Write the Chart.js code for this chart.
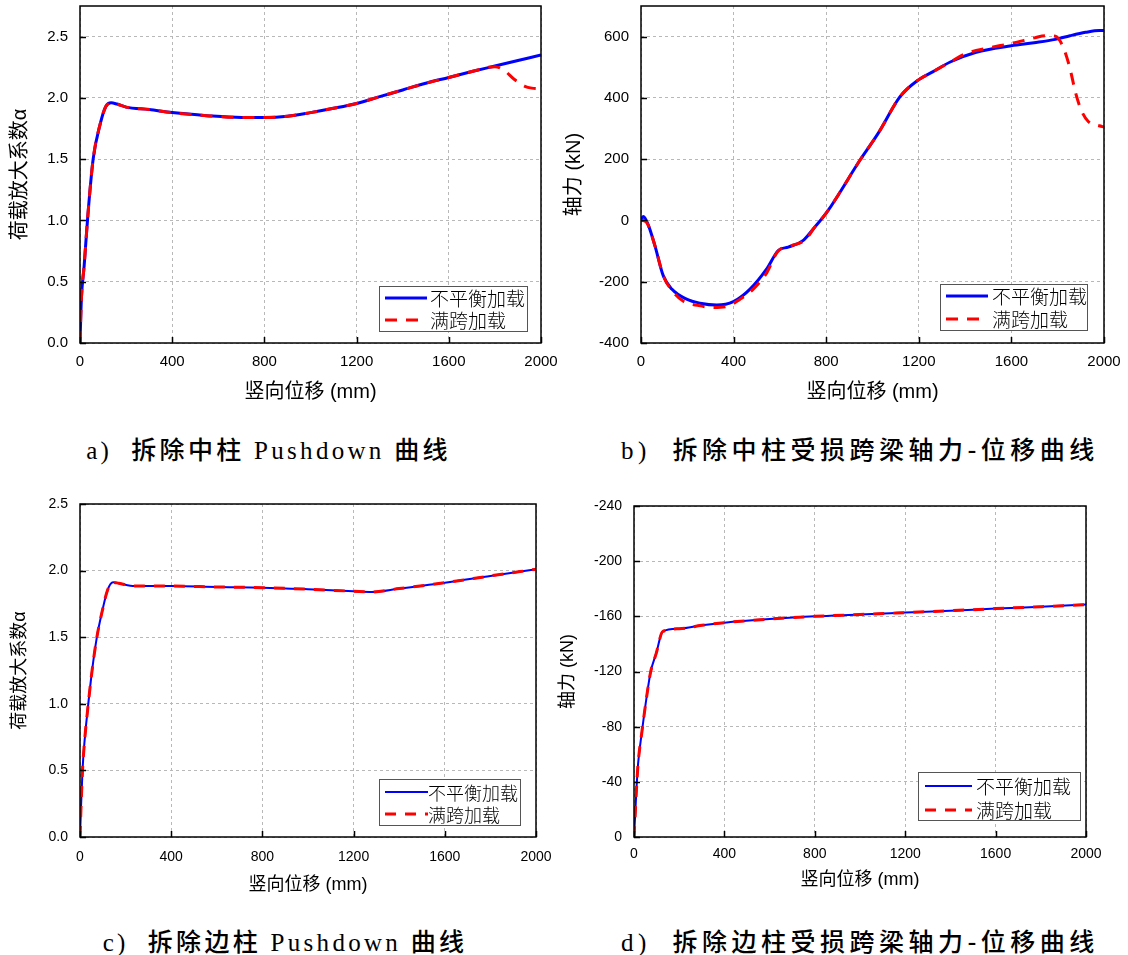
<!DOCTYPE html>
<html>
<head>
<meta charset="utf-8">
<script src="https://cdn.jsdelivr.net/npm/chart.js@4.4.0/dist/chart.umd.min.js"></script>
<style>
  body { margin: 0; background: #fff; width: 1128px; height: 955px; position: relative; overflow: hidden; }
  .cap { position: absolute; font-family: 'Liberation Serif', 'Noto Sans CJK SC', serif; font-size: 25px;
         white-space: nowrap; color: #000; text-align: center; line-height: 30px; }
  .cap b { font-family: 'Noto Sans CJK SC', sans-serif; font-weight: 500; }
</style>
</head>
<body>
<div class="cap" style="left:0;width:537px;top:433px;letter-spacing:3.3px">a)&nbsp; <b>拆除中柱</b> Pushdown <b>曲线</b></div>
<div class="cap" style="left:600px;width:520px;top:433px;letter-spacing:4.5px">b)&nbsp; <b>拆除中柱受损跨梁轴力-位移曲线</b></div>
<div class="cap" style="left:0;width:570px;top:925px;letter-spacing:3.3px">c)&nbsp; <b>拆除边柱</b> Pushdown <b>曲线</b></div>
<div class="cap" style="left:600px;width:520px;top:925px;letter-spacing:4.5px">d)&nbsp; <b>拆除边柱受损跨梁轴力-位移曲线</b></div>
<script>
// a) 拆除中柱 Pushdown
const aDispBlue = [0, 6, 18, 34, 57, 88, 112, 135, 160, 200, 300, 400, 550, 700, 800, 900, 1000, 1100, 1200, 1300, 1400, 1500, 1600, 1700, 1800, 1900, 2000];
const aAlphaBlue = [0, 0.36, 0.63, 1.04, 1.50, 1.79, 1.93, 1.96, 1.95, 1.925, 1.905, 1.88, 1.855, 1.84, 1.84, 1.85, 1.88, 1.915, 1.955, 2.01, 2.065, 2.12, 2.167, 2.215, 2.26, 2.305, 2.35];
const aDispRed = [0, 6, 18, 34, 57, 88, 112, 135, 160, 200, 300, 400, 550, 700, 800, 900, 1000, 1100, 1200, 1300, 1400, 1500, 1600, 1700, 1800, 1840, 1885, 1930, 1960, 2000];
const aAlphaRed = [0, 0.36, 0.63, 1.04, 1.50, 1.79, 1.93, 1.96, 1.95, 1.925, 1.905, 1.88, 1.855, 1.84, 1.84, 1.85, 1.88, 1.915, 1.955, 2.01, 2.065, 2.12, 2.167, 2.215, 2.255, 2.225, 2.15, 2.095, 2.08, 2.075];

// b) 拆除中柱受损跨梁轴力
const bDispBlue = [0, 10, 32, 60, 96, 133, 197, 255, 327, 399, 471, 543, 593, 636, 701, 745, 803, 947, 1025, 1119, 1197, 1260, 1338, 1448, 1600, 1698, 1790, 1853, 1920, 1980, 2000];
const bForceBlue = [0, 13, -16, -82, -180, -224, -257, -270, -276, -265, -224, -158, -98, -87, -65, -27, 27, 198, 285, 404, 458, 485, 518, 549, 570, 580, 591, 603, 614, 620, 620];
const bDispRed = [0, 22, 60, 96, 133, 183, 250, 312, 370, 428, 485, 543, 590, 649, 712, 745, 803, 947, 1025, 1119, 1197, 1260, 1338, 1400, 1500, 1600, 1700, 1746, 1790, 1823, 1850, 1878, 1901, 1932, 1980, 2000];
const bForceRed = [0, -5, -82, -180, -228, -264, -278, -284, -281, -257, -224, -171, -102, -83, -62, -27, 27, 198, 285, 404, 458, 485, 518, 544, 563, 578, 596, 603, 601, 567, 505, 415, 361, 323, 309, 305];

// c) 拆除边柱 Pushdown
const cDisp = [0, 4, 11, 20, 32, 53, 74, 98, 121, 145, 170, 240, 400, 600, 800, 1000, 1200, 1280, 1400, 1600, 1800, 2000];
const cAlphaBlue = [0, 0.2, 0.5, 0.72, 0.93, 1.25, 1.50, 1.70, 1.854, 1.912, 1.905, 1.884, 1.884, 1.877, 1.872, 1.86, 1.845, 1.84, 1.865, 1.909, 1.96, 2.01];
const cAlphaRed = [0, 0.2, 0.5, 0.72, 0.93, 1.25, 1.50, 1.70, 1.854, 1.912, 1.905, 1.884, 1.884, 1.877, 1.872, 1.86, 1.845, 1.84, 1.865, 1.909, 1.96, 2.01];

// d) 拆除边柱受损跨梁轴力
const dDisp = [0, 5, 10, 18, 34, 58, 74, 98, 127, 200, 300, 400, 600, 800, 1000, 1200, 1400, 1600, 1800, 2000];
const dForceBlue = [0, -15, -32, -53, -75, -104, -120, -133, -149, -151, -153.5, -155.4, -158, -160, -161.3, -162.7, -164.1, -165.6, -167, -168.5];
const dForceRed = [0, -15, -32, -53, -75, -104, -120, -133, -149, -151, -153.5, -155.4, -158, -160, -161.3, -162.7, -164.1, -165.6, -167, -168.5];

const xTicks = [0, 400, 800, 1200, 1600, 2000];
const names = ['不平衡加载', '满跨加载'];
const xTitle = '竖向位移 (mm)';

const SANS = "'Liberation Sans', 'Noto Sans CJK SC', sans-serif";
const PAD_TOP = 28, PAD_RIGHT = 34;

function pts(xs, ys) {
  return xs.map((x, i) => ({ x: x, y: ys[i] }));
}

// frame, inner ticks and the boxed legend inside the plot
const framePlugin = {
  id: 'frame',
  afterDraw(chart, args, o) {
    const ctx = chart.ctx, a = chart.chartArea;
    ctx.save();
    ctx.strokeStyle = '#000';
    ctx.lineWidth = 1.5;
    ctx.setLineDash([]);
    const xs = chart.scales.x, ys = chart.scales.y;
    ctx.beginPath();
    xs.ticks.forEach(t => {
      const p = Math.round(xs.getPixelForValue(t.value)) + 0.5;
      ctx.moveTo(p, a.bottom); ctx.lineTo(p, a.bottom - 6);
    });
    ys.ticks.forEach(t => {
      const p = Math.round(ys.getPixelForValue(t.value)) + 0.5;
      ctx.moveTo(a.left, p); ctx.lineTo(a.left + 6, p);
    });
    ctx.stroke();
    ctx.strokeRect(a.left, a.top, a.right - a.left, a.bottom - a.top);

    const lg = o.legend, ox = o.ox, oy = o.oy;
    const bx = lg.x - ox, by = lg.y - oy;
    ctx.fillStyle = '#fff';
    ctx.fillRect(bx, by, lg.w, lg.h);
    ctx.lineWidth = 1;
    ctx.strokeStyle = '#555';
    ctx.strokeRect(bx + 0.5, by + 0.5, lg.w, lg.h);
    const rows = [lg.r1 - oy, lg.r2 - oy];
    chart.data.datasets.forEach((ds, i) => {
      ctx.beginPath();
      ctx.strokeStyle = ds.borderColor;
      ctx.lineWidth = ds.borderWidth;
      ctx.setLineDash(ds.borderDash || []);
      ctx.moveTo(lg.l1 - ox, rows[i]);
      ctx.lineTo(lg.l2 - ox, rows[i]);
      ctx.stroke();
      ctx.setLineDash([]);
      ctx.fillStyle = '#000';
      ctx.font = '300 ' + lg.fs + "px 'Noto Sans CJK SC'";
      ctx.textBaseline = 'middle';
      ctx.textAlign = 'left';
      ctx.fillText(ds.label, lg.tx - ox, rows[i] + 1);
    });
    ctx.restore();
  }
};

function build(cfg) {
  const g = cfg.plot;
  const lh = cfg.titleSize * 1.2;
  const L = Math.round(cfg.yTitleX - lh / 2);
  const T = g.t - PAD_TOP;
  const W = g.r + PAD_RIGHT - L;
  const bottom = Math.round(cfg.xTitleY + lh / 2);
  const H = bottom - T;
  const canvas = document.createElement('canvas');
  canvas.width = W;
  canvas.height = H;
  canvas.style.cssText = 'position:absolute;left:' + L + 'px;top:' + T + 'px;width:' + W + 'px;height:' + H + 'px';
  document.body.appendChild(canvas);

  const tickFont = { family: SANS, size: cfg.tickSize };
  const titleFont = { family: SANS, size: cfg.titleSize, lineHeight: 1.2 };

  new Chart(canvas, {
    type: 'line',
    data: {
      datasets: [
        { label: names[0], data: pts(cfg.x1, cfg.y1), borderColor: 'rgb(0,0,255)', borderWidth: cfg.blueW,
          pointRadius: 0, cubicInterpolationMode: 'monotone', order: 1 },
        { label: names[1], data: pts(cfg.x2, cfg.y2), borderColor: 'rgb(255,0,0)', borderWidth: cfg.redW,
          borderDash: cfg.dash, pointRadius: 0, cubicInterpolationMode: 'monotone', order: 0 }
      ]
    },
    options: {
      responsive: false,
      animation: false,
      devicePixelRatio: 1,
      layout: { padding: { left: 0, top: PAD_TOP, right: PAD_RIGHT, bottom: 0 } },
      plugins: {
        legend: { display: false },
        tooltip: { enabled: false },
        frame: { legend: cfg.legend, ox: L, oy: T }
      },
      scales: {
        x: {
          type: 'linear', min: 0, max: 2000,
          afterFit: s => { s.height = bottom - g.b; },
          afterBuildTicks: s => { s.ticks = xTicks.map(v => ({ value: v })); },
          ticks: { padding: cfg.xPad, font: tickFont, color: '#000', maxRotation: 0, autoSkip: false,
                   callback: v => String(v) },
          grid: { drawTicks: false, color: '#b8b8b8', lineWidth: 1 },
          border: { display: false, dash: [3, 3] },
          title: { display: true, text: xTitle, font: titleFont, color: '#000', padding: 0 }
        },
        y: {
          type: 'linear', min: cfg.yMin, max: cfg.yMax, reverse: !!cfg.reverse,
          afterFit: s => { s.width = g.l - L; },
          afterBuildTicks: s => { s.ticks = cfg.yTicks.map(v => ({ value: v })); },
          ticks: { padding: 12, font: tickFont, color: '#000', callback: cfg.fmt, autoSkip: false },
          grid: { drawTicks: false, color: '#b8b8b8', lineWidth: 1 },
          border: { display: false, dash: [3, 3] },
          title: { display: true, text: cfg.yTitle, font: titleFont, color: '#000', padding: 0 }
        }
      }
    },
    plugins: [framePlugin]
  });
}

const alphaTicks = [0, 0.5, 1.0, 1.5, 2.0, 2.5];
const fix1 = v => Number(v).toFixed(1);
const plain = v => String(v);

build({
  plot: { l: 80, t: 6, r: 541, b: 343 }, yTitleX: 20, xTitleY: 392, titleSize: 20, tickSize: 15, xPad: 10,
  x1: aDispBlue, y1: aAlphaBlue, x2: aDispRed, y2: aAlphaRed, blueW: 3, redW: 3, dash: [12, 9],
  yMin: 0, yMax: 2.75, yTicks: alphaTicks, fmt: fix1, yTitle: '荷载放大系数α',
  legend: { x: 379, y: 286, w: 148, h: 45, r1: 298, r2: 320, l1: 385, l2: 427, tx: 430, fs: 19 }
});
build({
  plot: { l: 641, t: 6, r: 1104, b: 343 }, yTitleX: 574, xTitleY: 392, titleSize: 20, tickSize: 15, xPad: 10,
  x1: bDispBlue, y1: bForceBlue, x2: bDispRed, y2: bForceRed, blueW: 3, redW: 3, dash: [12, 9],
  yMin: -400, yMax: 700, yTicks: [-400, -200, 0, 200, 400, 600], fmt: plain, yTitle: '轴力 (kN)',
  legend: { x: 940, y: 284, w: 147, h: 46, r1: 296, r2: 319, l1: 946, l2: 988, tx: 992, fs: 19 }
});
build({
  plot: { l: 80, t: 504, r: 536, b: 837 }, yTitleX: 20, xTitleY: 885, titleSize: 18, tickSize: 14, xPad: 12,
  x1: cDisp, y1: cAlphaBlue, x2: cDisp, y2: cAlphaRed, blueW: 2, redW: 3, dash: [11, 9],
  yMin: 0, yMax: 2.5, yTicks: alphaTicks, fmt: fix1, yTitle: '荷载放大系数α',
  legend: { x: 379, y: 779, w: 141, h: 46, r1: 792, r2: 814, l1: 385, l2: 428, tx: 428, fs: 18 }
});
build({
  plot: { l: 634, t: 506, r: 1086, b: 837 }, yTitleX: 568, xTitleY: 880, titleSize: 18, tickSize: 14, xPad: 9,
  x1: dDisp, y1: dForceBlue, x2: dDisp, y2: dForceRed, blueW: 2, redW: 3, dash: [11, 9],
  yMin: -240, yMax: 0, reverse: true, yTicks: [-240, -200, -160, -120, -80, -40, 0], fmt: plain, yTitle: '轴力 (kN)',
  legend: { x: 918, y: 772, w: 162, h: 48, r1: 786, r2: 810, l1: 925, l2: 972, tx: 976, fs: 19 }
});
</script>
</body>
</html>
